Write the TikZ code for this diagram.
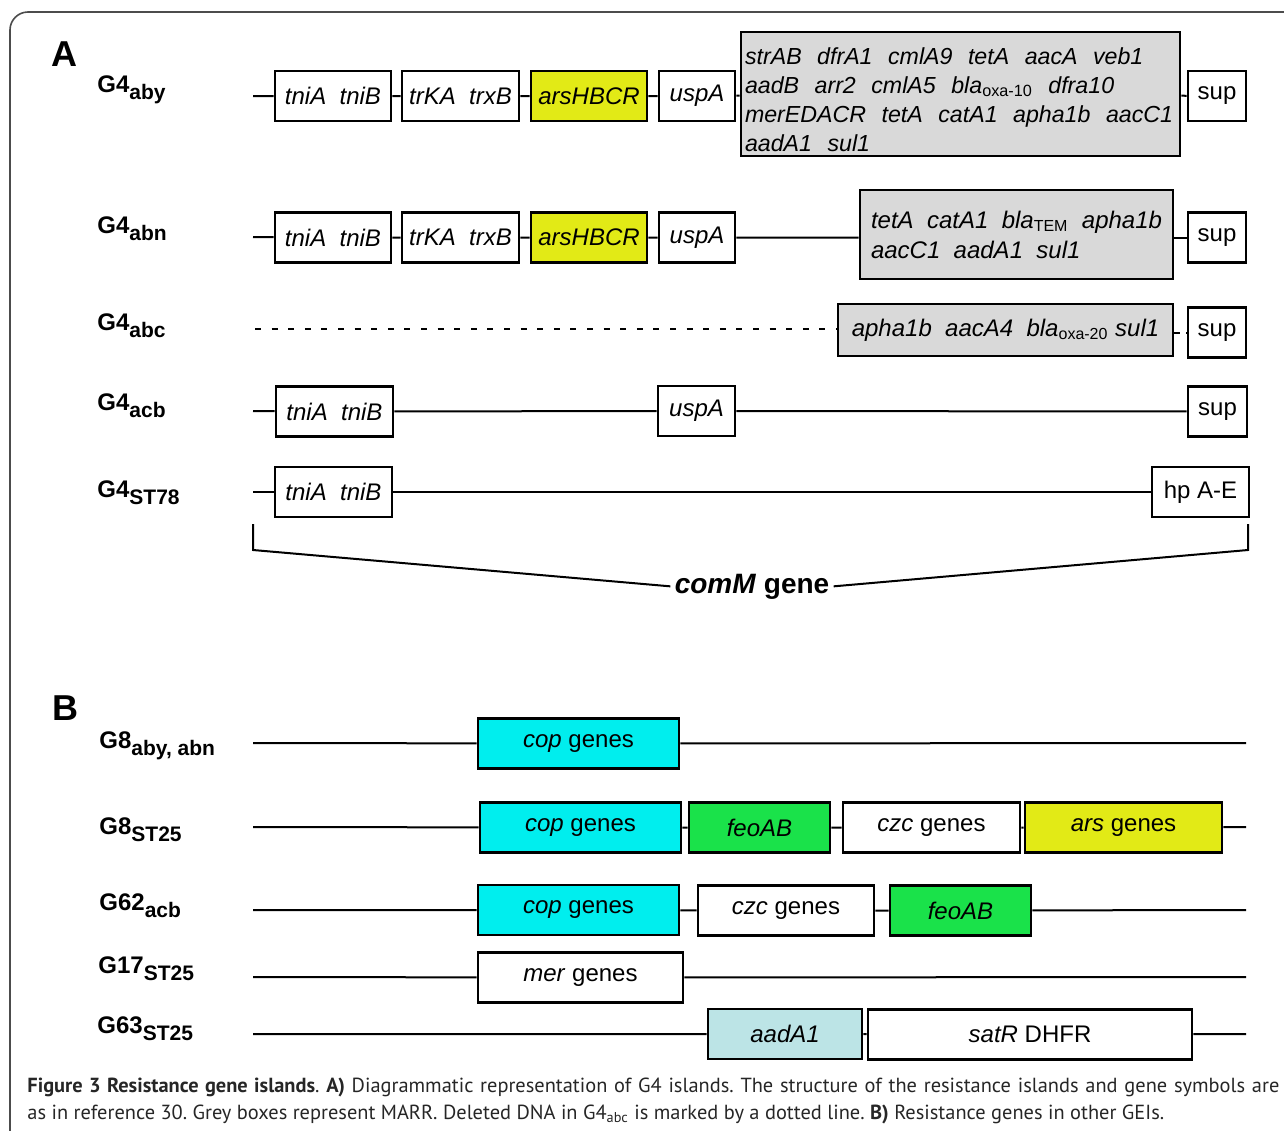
\documentclass[tikz,border=0pt]{standalone}
\usepackage{fontspec}
\setmainfont{Liberation Sans}
\newfontfamily\capfont{PT Sans}
\usepackage{tikz}

\definecolor{arsyel}{RGB}{226,234,22}
\definecolor{copcyan}{RGB}{0,238,238}
\definecolor{feogreen}{RGB}{26,226,74}
\definecolor{aadblue}{RGB}{188,228,230}
\definecolor{marrgrey}{RGB}{217,217,217}

\newcommand{\glab}[2]{\textbf{\fontsize{12}{14}\selectfont #1\raisebox{-3.5pt}{\fontsize{10.5}{11}\selectfont #2}}}
\newcommand{\lo}[1]{\textsubscript{\upshape #1}}

\begin{document}
\begin{tikzpicture}[x=0.5pt,y=-0.5pt,
  gene/.style={draw,line width=1.3pt,minimum height=25pt,inner sep=1pt,font=\fontsize{12}{14.5}\selectfont},
  marr/.style={gene,fill=marrgrey,align=left},
  dna/.style={line width=1pt},
  lbl/.style={anchor=base west,inner sep=0}]
\useasboundingbox (0,0) rectangle (1284,1130);
\draw[line width=0.8pt,black!70,rounded corners=9pt] (10,1140) -- (10,12) -- (1300,12);

\node[lbl] (A) at (51,66) {\textbf{\fontsize{18}{20}\selectfont A}};
\node[lbl] (B) at (52,720) {\textbf{\fontsize{18}{20}\selectfont B}};

% G4 islands
\node[lbl] (r1) at (97,92) {\glab{G4}{aby}};
\node[lbl] (r2) at (97,233) {\glab{G4}{abn}};
\node[lbl] (r3) at (97,330) {\glab{G4}{abc}};
\node[lbl] (r4) at (97,410) {\glab{G4}{acb}};
\node[lbl] (r5) at (97,497) {\glab{G4}{ST78}};

\coordinate (10) at (253,96);
\node[gene,minimum width=58pt] (11) at (333,96) {\itshape tniA~ tniB};
\node[gene,minimum width=58.5pt] (12) at (460.5,96) {\itshape trKA~ trxB};
\node[gene,minimum width=58pt,fill=arsyel] (13) at (589,96) {\itshape arsHBCR};
\node[gene,minimum width=38pt] (14) at (697,96) {\itshape uspA};
\node[marr,text width=215.5pt,minimum height=62pt,inner sep=2pt,font=\fontsize{11.6}{14.6}\selectfont\itshape] (15) at (960.5,94) {\rule{0pt}{14pt}strAB~ dfrA1~ cmlA9~ tetA~ aacA~ veb1\\
aadB~ arr2~ cmlA5~ bla\lo{oxa-10}~ dfra10\\
merEDACR~ tetA~ catA1~ apha1b~ aacC1\\
aadA1~ sul1};
\node[gene,minimum width=29pt] (16) at (1217,96) {sup};
\draw[dna] (10) -- (11) -- (12) -- (13) -- (14) -- (15) -- (16);

\coordinate (20) at (253,237);
\node[gene,minimum width=58pt] (21) at (333,237.5) {\itshape tniA~ tniB};
\node[gene,minimum width=58.5pt] (22) at (460.5,237.5) {\itshape trKA~ trxB};
\node[gene,minimum width=58pt,fill=arsyel] (23) at (589,237.5) {\itshape arsHBCR};
\node[gene,minimum width=38pt] (24) at (697,237.5) {\itshape uspA};
\node[marr,minimum width=156.5pt,minimum height=44.5pt,font=\fontsize{12}{15}\selectfont\itshape] (25) at (1016.5,234.5) {tetA~ catA1~ bla\lo{TEM}~ apha1b\\
aacC1~ aadA1~ sul1};
\node[gene,minimum width=29pt] (26) at (1217,237.5) {sup};
\draw[dna] (20) -- (21) -- (22) -- (23) -- (24) -- (24 -| 25.west);
\draw[dna] (25.east |- 26) -- (26);

\coordinate (30) at (255,329);
\node[marr,minimum width=167.5pt,minimum height=26pt,font=\fontsize{12}{14.5}\selectfont\itshape] (31) at (1005.5,330) {apha1b~ aacA4~ bla\lo{oxa-20} sul1};
\node[gene,minimum width=29pt] (32) at (1217,332.5) {sup};
\draw[dna,dash pattern=on 3pt off 5.3pt] (30) -- (30 -| 31.west);
\draw[dna,dash pattern=on 3pt off 3pt] (31.east |- 32) -- (32);

\coordinate (40) at (253,411);
\node[gene,minimum width=58.5pt] (41) at (334.5,411.5) {\itshape tniA~ tniB};
\node[gene,minimum width=38.5pt] (42) at (696.5,411) {\itshape uspA};
\node[gene,minimum width=29.5pt] (43) at (1217.5,411.5) {sup};
\draw[dna] (40) -- (41) -- (42) -- (43);

\coordinate (50) at (253,492);
\node[gene,minimum width=58.5pt] (51) at (333.5,492) {\itshape tniA~ tniB};
\node[gene,minimum width=48.5pt] (52) at (1200.5,492) {hp A-E};
\draw[dna] (50) -- (51) -- (52);

% comM bracket
\node[anchor=base,inner sep=2pt] (cm) at (752,593) {\fontsize{14}{16}\selectfont\textbf{\textit{comM} gene}};
\coordinate (b1) at (253,524);
\coordinate (b2) at (253,550);
\coordinate (b3) at (1248,550);
\coordinate (b4) at (1248,524);
\draw[dna] (b1) -- (b2) -- (cm.west);
\draw[dna] (cm.east) -- (b3) -- (b4);

% other GEIs
\node[lbl] (s1) at (99,748) {\glab{G8}{aby, abn}};
\node[lbl] (s2) at (99,834) {\glab{G8}{ST25}};
\node[lbl] (s3) at (99,910) {\glab{G62}{acb}};
\node[lbl] (s4) at (98,973) {\glab{G17}{ST25}};
\node[lbl] (s5) at (97,1033) {\glab{G63}{ST25}};

\coordinate (60) at (253,743);
\node[gene,minimum width=100.5pt,fill=copcyan] (61) at (578.5,743.5) {\textit{cop} genes};
\coordinate (62) at (1246,743);
\draw[dna] (60) -- (61) -- (62);

\coordinate (70) at (253,827);
\node[gene,minimum width=100.5pt,fill=copcyan] (71) at (580.5,827.5) {\textit{cop} genes};
\node[gene,minimum width=70.5pt,fill=feogreen] (72) at (759.5,827.5) {\itshape feoAB};
\node[gene,minimum width=88.5pt] (73) at (931.5,827.5) {\textit{czc} genes};
\node[gene,minimum width=98.5pt,fill=arsyel] (74) at (1123.5,827.5) {\textit{ars} genes};
\coordinate (75) at (1246,827);
\draw[dna] (70) -- (71) -- (72) -- (73) -- (74) -- (75);

\coordinate (80) at (253,910);
\node[gene,minimum width=100.5pt,fill=copcyan] (81) at (578.5,910) {\textit{cop} genes};
\node[gene,minimum width=88pt] (82) at (786,910.5) {\textit{czc} genes};
\node[gene,minimum width=70.5pt,fill=feogreen] (83) at (960.5,910.5) {\itshape feoAB};
\coordinate (84) at (1246,910);
\draw[dna] (80) -- (81) -- (82) -- (83) -- (84);

\coordinate (90) at (253,977);
\node[gene,minimum width=102.5pt] (91) at (580.5,977.5) {\textit{mer} genes};
\coordinate (92) at (1246,977);
\draw[dna] (90) -- (91) -- (92);

\coordinate (100) at (253,1034);
\node[gene,minimum width=77pt,fill=aadblue] (101) at (785,1034) {\itshape aadA1};
\node[gene,minimum width=162pt] (102) at (1030,1034.5) {\textit{satR} DHFR};
\coordinate (103) at (1246,1034);
\draw[dna] (100) -- (101) -- (102) -- (103);

% caption
\node[anchor=north west,inner sep=0,text width=626pt,align=justify,text=black!85,
  font=\capfont\fontsize{10.2}{13.4}\selectfont\frenchspacing] (cap) at (27,1078) {\textbf{Figure 3 Resistance gene islands}. \textbf{A)} Diagrammatic representation of G4 islands. The structure of the resistance islands and gene symbols are\linebreak as in reference 30. Grey boxes represent MARR. Deleted DNA in G4\textsubscript{abc} is marked by a dotted line. \textbf{B)} Resistance genes in other GEIs.};
\end{tikzpicture}
\end{document}
